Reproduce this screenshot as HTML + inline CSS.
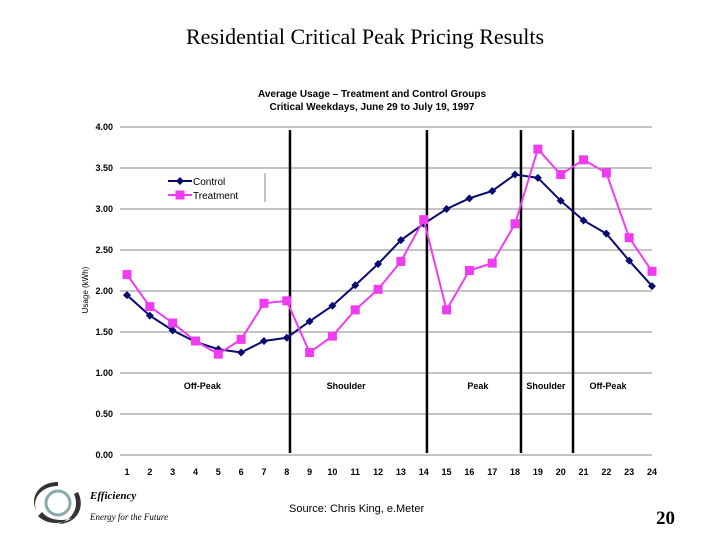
<!DOCTYPE html>
<html><head><meta charset="utf-8"><style>
body{margin:0;background:#fff;width:720px;height:540px;overflow:hidden;position:relative;font-family:"Liberation Sans",sans-serif}
.t{position:absolute}
</style></head><body>
<div class="t" style="left:0;width:730px;top:24px;text-align:center;font-family:'Liberation Serif',serif;font-size:22px">Residential Critical Peak Pricing Results</div>
<svg width="720" height="540" style="position:absolute;left:0;top:0" id="chart">
<text x="372" y="97" text-anchor="middle" font-size="10" font-weight="bold">Average Usage – Treatment and Control Groups</text>
<text x="372" y="110" text-anchor="middle" font-size="10" font-weight="bold">Critical Weekdays, June 29 to July 19, 1997</text>
<text transform="translate(88,290) rotate(-90)" text-anchor="middle" font-size="8">Usage (kWh)</text>
<g id="grid"></g><g id="marks"></g>
</svg>
<svg width="60" height="50" style="position:absolute;left:28px;top:478px">
<path d="M30 4 C10 4 2 20 8 32 C4 20 14 8 30 8Z M50 14 C58 30 48 46 30 46 C44 42 52 30 46 16Z M10 38 C20 48 36 46 44 40 C34 44 20 42 14 34Z" fill="#333"/>
<circle cx="30" cy="25" r="12" fill="none" stroke="#8aa" stroke-width="3"/>
</svg>
<div class="t" style="left:90px;top:490px;font-family:'Liberation Serif',serif;font-style:italic;font-weight:bold;font-size:11px">Efficiency</div>
<div class="t" style="left:90px;top:512px;font-family:'Liberation Serif',serif;font-style:italic;font-size:9px">Energy for the Future</div>
<div class="t" style="left:289px;top:503px;font-size:11px">Source: Chris King, e.Meter</div>
<div class="t" style="left:656px;top:508px;font-family:'Liberation Serif',serif;font-weight:bold;font-size:19px">20</div>
<script>
const hours=[1,2,3,4,5,6,7,8,9,10,11,12,13,14,15,16,17,18,19,20,21,22,23,24];
const control=[1.95,1.70,1.52,1.38,1.29,1.25,1.39,1.43,1.63,1.82,2.07,2.33,2.62,2.82,3.00,3.13,3.22,3.42,3.38,3.10,2.86,2.70,2.37,2.06];
const treatment=[2.20,1.81,1.61,1.39,1.23,1.41,1.85,1.88,1.25,1.45,1.77,2.02,2.36,2.87,1.77,2.25,2.34,2.82,3.73,3.42,3.60,3.44,2.65,2.24];
const yTicks=[0,0.5,1,1.5,2,2.5,3,3.5,4];
const yTickLabels=["0.00","0.50","1.00","1.50","2.00","2.50","3.00","3.50","4.00"];
const dividers=[8.14,14.14,18.26,20.54];
const periods=[["Off-Peak",4.3],["Shoulder",10.6],["Peak",16.37],["Shoulder",19.35],["Off-Peak",22.07]];
const NS="http://www.w3.org/2000/svg";
const X=h=>127+(h-1)*(652-127)/23, Y=v=>455-v*82;
const grid=document.getElementById('grid'),marks=document.getElementById('marks');
function mk(tag,a,p){const e=document.createElementNS(NS,tag);for(const k in a)e.setAttribute(k,a[k]);p.appendChild(e);return e;}
yTicks.forEach((v,i)=>{
 const l=mk('line',{x1:120,x2:652,y1:Y(v),y2:Y(v),stroke:'#888','stroke-width':1},grid);
 
 
 const t=mk('text',{x:113,y:Y(v)+3,'text-anchor':'end','font-size':9,'font-weight':'bold'},grid);t.textContent=yTickLabels[i];
 
 
});
hours.forEach(h=>{const t=mk('text',{x:X(h),y:475,'text-anchor':'middle','font-size':9,'font-weight':'bold'},grid);t.textContent=h;
 
 });
dividers.forEach(d=>{const l=mk('line',{x1:X(d),x2:X(d),y1:130,y2:453,stroke:'#000','stroke-width':2.5},grid);
 
 });
periods.forEach(p=>{const t=mk('text',{x:X(p[1]),y:389,'text-anchor':'middle','font-size':9,'font-weight':'bold'},grid);t.textContent=p[0];
 
 });
function series(vals,color,sq,name){
 const pl=mk('polyline',{points:vals.map((v,i)=>X(hours[i])+','+Y(v)).join(' '),fill:'none',stroke:color,'stroke-width':2},marks);
 
 
 vals.forEach((v,i)=>{const x=X(hours[i]),y=Y(v);let m;
  if(sq)m=mk('rect',{x:x-4.5,y:y-4.5,width:9,height:9,fill:color},marks);
  else m=mk('polygon',{points:`${x},${y-4} ${x+4},${y} ${x},${y+4} ${x-4},${y}`,fill:color},marks);
  
  });
}
series(control,'#0a0a6e',false,'control');
series(treatment,'#f03cf0',true,'treatment');
const lg=mk('g',{},marks);
mk('line',{x1:168,x2:192,y1:181,y2:181,stroke:'#0a0a6e','stroke-width':2},lg);
mk('polygon',{points:'180,177 184,181 180,185 176,181',fill:'#0a0a6e'},lg);
mk('line',{x1:168,x2:192,y1:195,y2:195,stroke:'#f03cf0','stroke-width':2},lg);
mk('rect',{x:175.5,y:190.5,width:9,height:9,fill:'#f03cf0'},lg);
mk('line',{x1:265,x2:265,y1:173,y2:202,stroke:'#888'},lg);
let t1=mk('text',{x:193,y:185,'font-size':10},lg);t1.textContent='Control';
let t2=mk('text',{x:193,y:199,'font-size':10},lg);t2.textContent='Treatment';
</script>
</body></html>
